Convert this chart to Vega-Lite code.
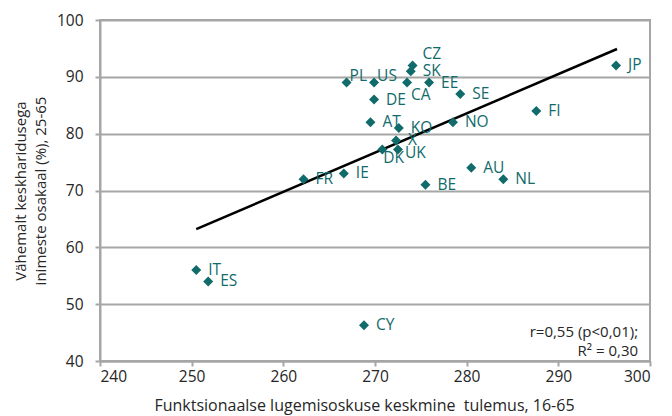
{
  "$schema": "https://vega.github.io/schema/vega-lite/v6.json",
  "width": 550,
  "height": 341,
  "autosize": "none",
  "padding": {"left": 100, "top": 20, "right": 22, "bottom": 55},
  "background": "white",
  "config": {
    "font": "Open Sans",
    "view": {"stroke": "#a6a6a6", "strokeWidth": 2},
    "axis": {
      "domainColor": "#a6a6a6",
      "domainWidth": 2,
      "tickColor": "#a6a6a6",
      "tickWidth": 2,
      "tickSize": 5,
      "labelFont": "Open Sans",
      "labelFontSize": 15.5,
      "labelColor": "#262626",
      "titleFont": "Open Sans",
      "titleFontSize": 15,
      "titleFontWeight": "normal",
      "titleColor": "#262626",
      "gridColor": "#a6a6a6",
      "gridWidth": 2
    }
  },
  "datasets": {
    "pts": [
      {"c": "JP", "x": 296.3, "y": 92},
      {"c": "FI", "x": 287.6, "y": 84},
      {"c": "NL", "x": 284.0, "y": 72},
      {"c": "AU", "x": 280.5, "y": 74},
      {"c": "SE", "x": 279.3, "y": 87},
      {"c": "NO", "x": 278.5, "y": 82},
      {"c": "EE", "x": 275.9, "y": 89},
      {"c": "BE", "x": 275.5, "y": 71},
      {"c": "CZ", "x": 274.1, "y": 92},
      {"c": "SK", "x": 273.9, "y": 91},
      {"c": "CA", "x": 273.5, "y": 89},
      {"c": "KO", "x": 272.6, "y": 81},
      {"c": "UK", "x": 272.5, "y": 77.2},
      {"c": "X", "x": 272.3, "y": 78.8},
      {"c": "DK", "x": 270.8, "y": 77.2},
      {"c": "US", "x": 269.9, "y": 89},
      {"c": "DE", "x": 269.9, "y": 86},
      {"c": "AT", "x": 269.5, "y": 82},
      {"c": "CY", "x": 268.8, "y": 46.3},
      {"c": "PL", "x": 266.9, "y": 89},
      {"c": "IE", "x": 266.6, "y": 73},
      {"c": "FR", "x": 262.2, "y": 72},
      {"c": "ES", "x": 251.8, "y": 54},
      {"c": "IT", "x": 250.5, "y": 56}
    ],
    "trend": [
      {"x": 250.5, "y": 63.2},
      {"x": 296.4, "y": 94.9}
    ],
    "note": [
      {"x": 298.7, "y": 45.1, "t": ["r=0,55 (p<0,01);", "R² = 0,30"]}
    ]
  },
  "encoding": {
    "x": {
      "field": "x",
      "type": "quantitative",
      "scale": {"domain": [240, 300], "nice": false, "zero": false},
      "axis": {
        "values": [240, 250, 260, 270, 280, 290, 300],
        "grid": false,
        "labelPadding": 3,
        "title": "Funktsionaalse lugemisoskuse keskmine\u00a0 tulemus, 16-65",
        "titleFontSize": 16,
        "titlePadding": 13,
        "titleX": 264
      }
    },
    "y": {
      "field": "y",
      "type": "quantitative",
      "scale": {"domain": [40, 100], "nice": false, "zero": false},
      "axis": {
        "values": [40, 50, 60, 70, 80, 90, 100],
        "grid": true,
        "labelPadding": 12,
        "title": ["Vähemalt keskharidusega", "inimeste osakaal (%), 25-65"],
        "titleLineHeight": 20,
        "titlePadding": 8
      }
    }
  },
  "layer": [
    {
      "data": {"name": "trend"},
      "mark": {"type": "line", "color": "black", "strokeWidth": 2.5},
      "encoding": {}
    },
    {
      "data": {"name": "pts"},
      "mark": {"type": "point", "shape": "diamond", "filled": true, "size": 100, "color": "#116b6b", "opacity": 1}
    },
    {
      "data": {"name": "pts"},
      "transform": [{"filter": "indexof(['PL','US','CZ','CA','UK','DK'], datum.c) < 0"}],
      "mark": {"type": "text", "align": "left", "baseline": "middle", "dx": 12, "dy": 0, "fontSize": 15.5, "color": "#116b6b"},
      "encoding": {"text": {"field": "c"}}
    },
    {
      "data": {"name": "pts"},
      "transform": [{"filter": "indexof(['PL','US'], datum.c) >= 0"}],
      "mark": {"type": "text", "align": "left", "baseline": "middle", "dx": 3, "dy": -7, "fontSize": 15.5, "color": "#116b6b"},
      "encoding": {"text": {"field": "c"}}
    },
    {
      "data": {"name": "pts"},
      "transform": [{"filter": "datum.c == 'CZ'"}],
      "mark": {"type": "text", "align": "left", "baseline": "middle", "dx": 10, "dy": -11, "fontSize": 15.5, "color": "#116b6b"},
      "encoding": {"text": {"field": "c"}}
    },
    {
      "data": {"name": "pts"},
      "transform": [{"filter": "datum.c == 'CA'"}],
      "mark": {"type": "text", "align": "left", "baseline": "middle", "dx": 4, "dy": 12, "fontSize": 15.5, "color": "#116b6b"},
      "encoding": {"text": {"field": "c"}}
    },
    {
      "data": {"name": "pts"},
      "transform": [{"filter": "datum.c == 'UK'"}],
      "mark": {"type": "text", "align": "left", "baseline": "middle", "dx": 7, "dy": 3.5, "fontSize": 15.5, "color": "#116b6b"},
      "encoding": {"text": {"field": "c"}}
    },
    {
      "data": {"name": "pts"},
      "transform": [{"filter": "datum.c == 'DK'"}],
      "mark": {"type": "text", "align": "left", "baseline": "middle", "dx": 1, "dy": 8, "fontSize": 15.5, "color": "#116b6b"},
      "encoding": {"text": {"field": "c"}}
    },
    {
      "data": {"name": "note"},
      "mark": {"type": "text", "align": "right", "baseline": "middle", "fontSize": 15, "lineHeight": 19, "color": "#262626"},
      "encoding": {"text": {"field": "t"}}
    }
  ]
}
